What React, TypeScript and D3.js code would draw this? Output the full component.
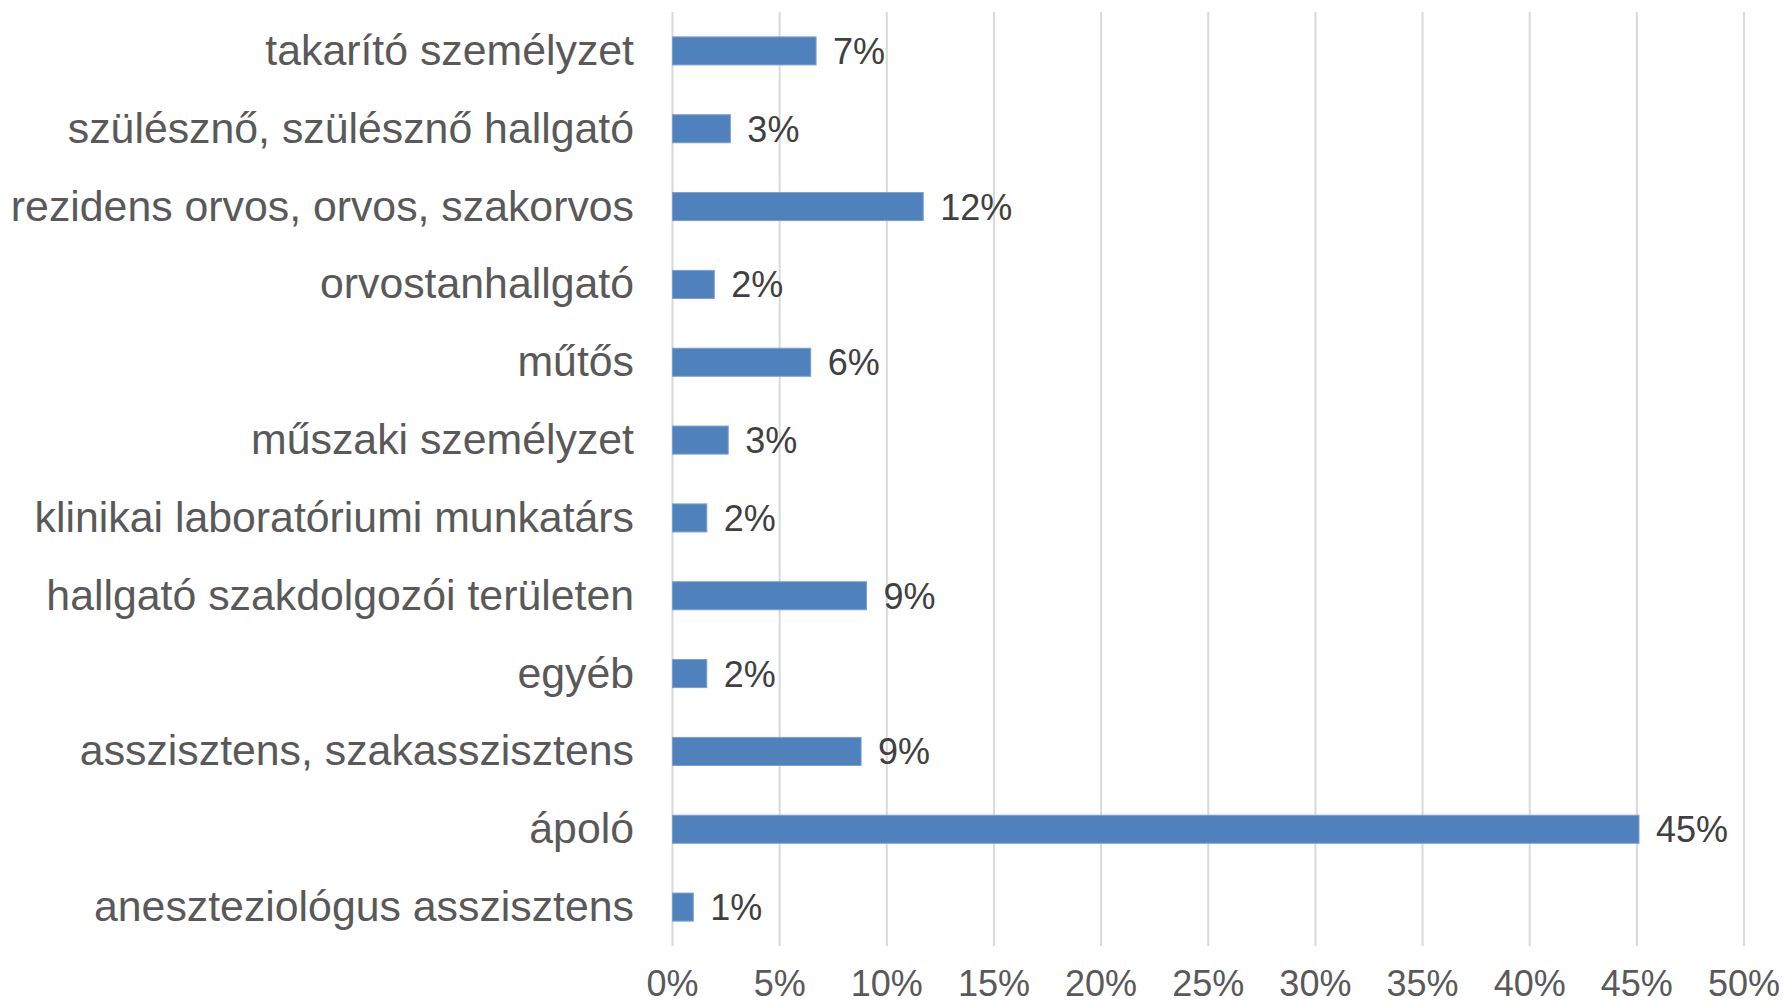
import * as d3 from "d3";

// occupational groups, top to bottom as in the chart
const categories = [
  "takarító személyzet",
  "szülésznő, szülésznő hallgató",
  "rezidens orvos, orvos, szakorvos",
  "orvostanhallgató",
  "műtős",
  "műszaki személyzet",
  "klinikai laboratóriumi munkatárs",
  "hallgató szakdolgozói területen",
  "egyéb",
  "asszisztens, szakasszisztens",
  "ápoló",
  "aneszteziológus asszisztens",
];

// share of respondents (%)
const values = [6.7, 2.7, 11.7, 1.95, 6.45, 2.6, 1.6, 9.05, 1.6, 8.8, 45.1, 0.97];

const ticks = [0, 5, 10, 15, 20, 25, 30, 35, 40, 45, 50];

const W = 1785;
const H = 1003;
const FONT = "'Liberation Sans', Arial, sans-serif";

const App = () => {
  const x = d3.scaleLinear().domain([0, 50]).range([672.5, 1744]);
  const y = d3
    .scaleBand()
    .domain(categories)
    .range([12, 946])
    .paddingInner(0.64)
    .paddingOuter(0.32);

  const bw = y.bandwidth();

  return (
    <svg
      width={W}
      height={H}
      style={{ position: "absolute", left: 0, top: 0, background: "#fff" }}
    >
      {/* gridlines */}
      {ticks.map((t) => (
        <line
          key={"g" + t}
          x1={x(t)}
          x2={x(t)}
          y1={12}
          y2={946}
          stroke="#d9d9d9"
          strokeWidth={2}
        />
      ))}

      {/* tick labels */}
      {ticks.map((t) => (
        <text
          key={"t" + t}
          x={x(t)}
          y={996}
          textAnchor="middle"
          fontFamily={FONT}
          fontSize={36}
          fill="#595959"
        >
          {t}%
        </text>
      ))}

      {categories.map((c, i) => {
        const cy = (y(c) ?? 0) + bw / 2;
        return (
          <g key={c}>
            <text
              x={634}
              y={cy + 14}
              textAnchor="end"
              fontFamily={FONT}
              fontSize={42.8}
              fill="#595959"
            >
              {c}
            </text>
            <rect
              x={x(0)}
              y={y(c)}
              width={x(values[i]) - x(0)}
              height={bw}
              fill="#4f81bd"
              stroke="#7a9fd0"
              strokeWidth={1}
            />
            <text
              x={x(values[i]) + 17}
              y={cy + 13}
              fontFamily={FONT}
              fontSize={36}
              fill="#404040"
            >
              {Math.round(values[i])}%
            </text>
          </g>
        );
      })}
    </svg>
  );
};

export default App;
